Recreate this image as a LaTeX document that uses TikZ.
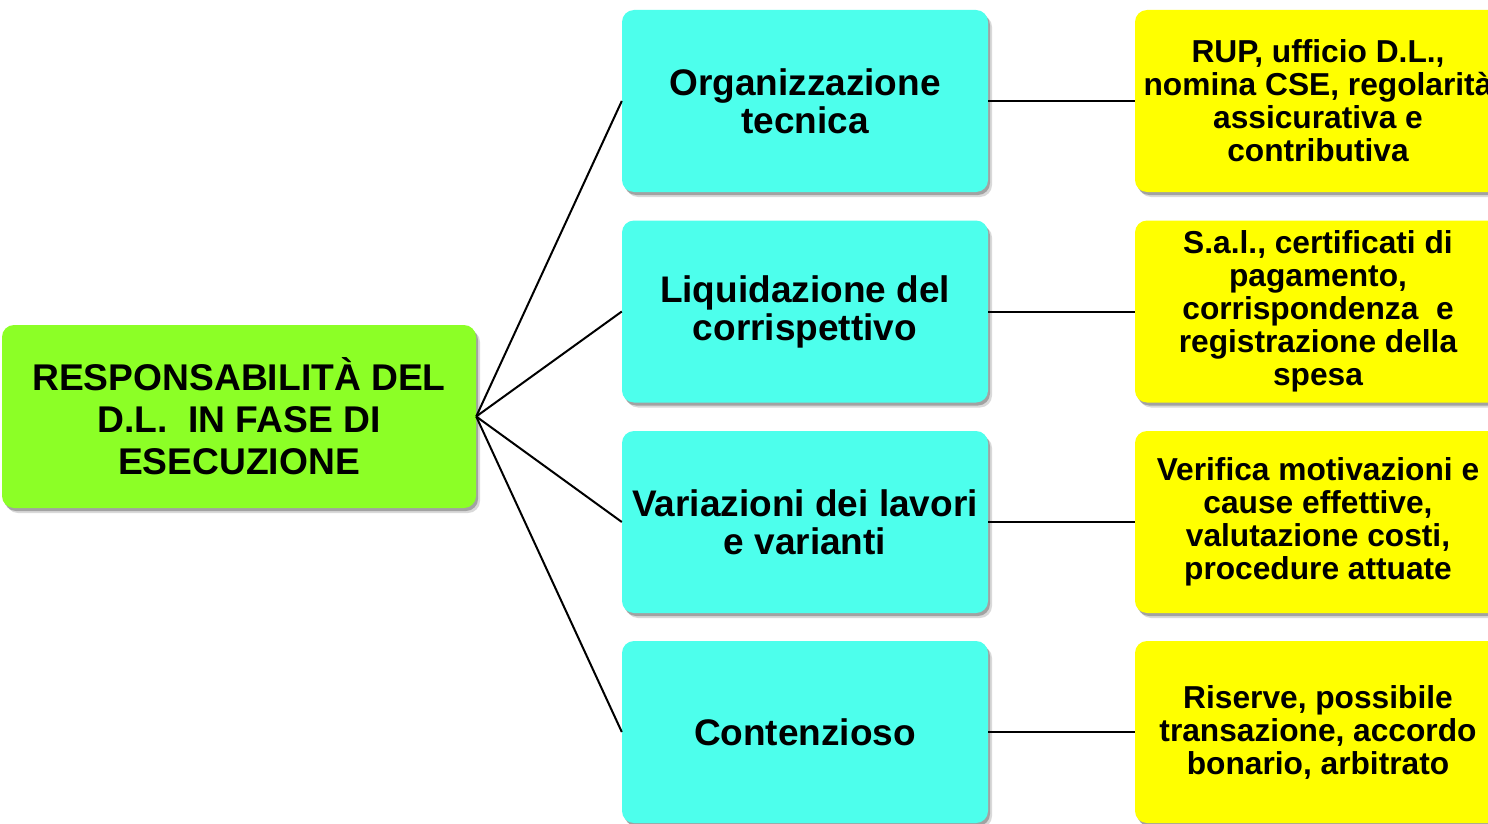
\documentclass[tikz,border=0pt]{standalone}
\usepackage{fontspec}
\setmainfont{Liberation Sans}
\usetikzlibrary{shadows}
\definecolor{rootgreen}{RGB}{140,255,38}
\definecolor{midcyan}{RGB}{77,255,236}
\definecolor{leafyellow}{RGB}{255,255,0}
\tikzset{
  boxbase/.style={rounded corners=12pt, align=center, inner sep=0pt,
    font=\bfseries,
    drop shadow={opacity=0.15, shadow xshift=4pt, shadow yshift=-5pt, fill=black},
    drop shadow={opacity=0.25, shadow xshift=2pt, shadow yshift=-3pt, fill=black}},
  rootbox/.style={boxbase, fill=rootgreen, minimum width=474pt, minimum height=183pt,
    font=\bfseries\fontsize{37.2}{42}\selectfont},
  midbox/.style={boxbase, fill=midcyan, minimum width=366pt, minimum height=182pt,
    font=\bfseries\fontsize{37}{38}\selectfont},
  leafbox/.style={boxbase, fill=leafyellow, minimum width=366pt, minimum height=182pt,
    font=\bfseries\fontsize{31.7}{33}\selectfont},
  link/.style={line width=2pt, black}
}
\begin{document}
\begin{tikzpicture}[x=1pt,y=-1pt]
\useasboundingbox (0,0) rectangle (1488,824);
\clip (0,0) rectangle (1488,824);
\fill[white] (0,0) rectangle (1488,824);

\node[rootbox] (root) at (239,416.5) {RESPONSABILITÀ DEL\\D.L.\ \ IN FASE DI\\ESECUZIONE};

\node[midbox] (m1) at (805,101) {Organizzazione\\tecnica};
\node[midbox] (m2) at (805,311.5) {Liquidazione del\\corrispettivo};
\node[midbox] (m3) at (805,522) {Variazioni dei lavori\\e varianti};
\node[midbox] (m4) at (805,732) {Contenzioso};

\node[leafbox] (l1) at (1318,101) {RUP, ufficio D.L.,\\nomina CSE, regolarità\\assicurativa e\\contributiva};
\node[leafbox] (l2) at (1318,311.5) {S.a.l., certificati di\\pagamento,\\corrispondenza\ \ e\\registrazione della\\spesa};
\node[leafbox] (l3) at (1318,522) {Verifica motivazioni e\\cause effettive,\\valutazione costi,\\procedure attuate};
\node[leafbox] (l4) at (1318,732) {Riserve, possibile\\transazione, accordo\\bonario, arbitrato};

\foreach \i in {1,2,3,4}{
  \draw[link] (root.east) -- (m\i.west);
  \draw[link] (m\i.east) -- (l\i.west);
}
\end{tikzpicture}
\end{document}
